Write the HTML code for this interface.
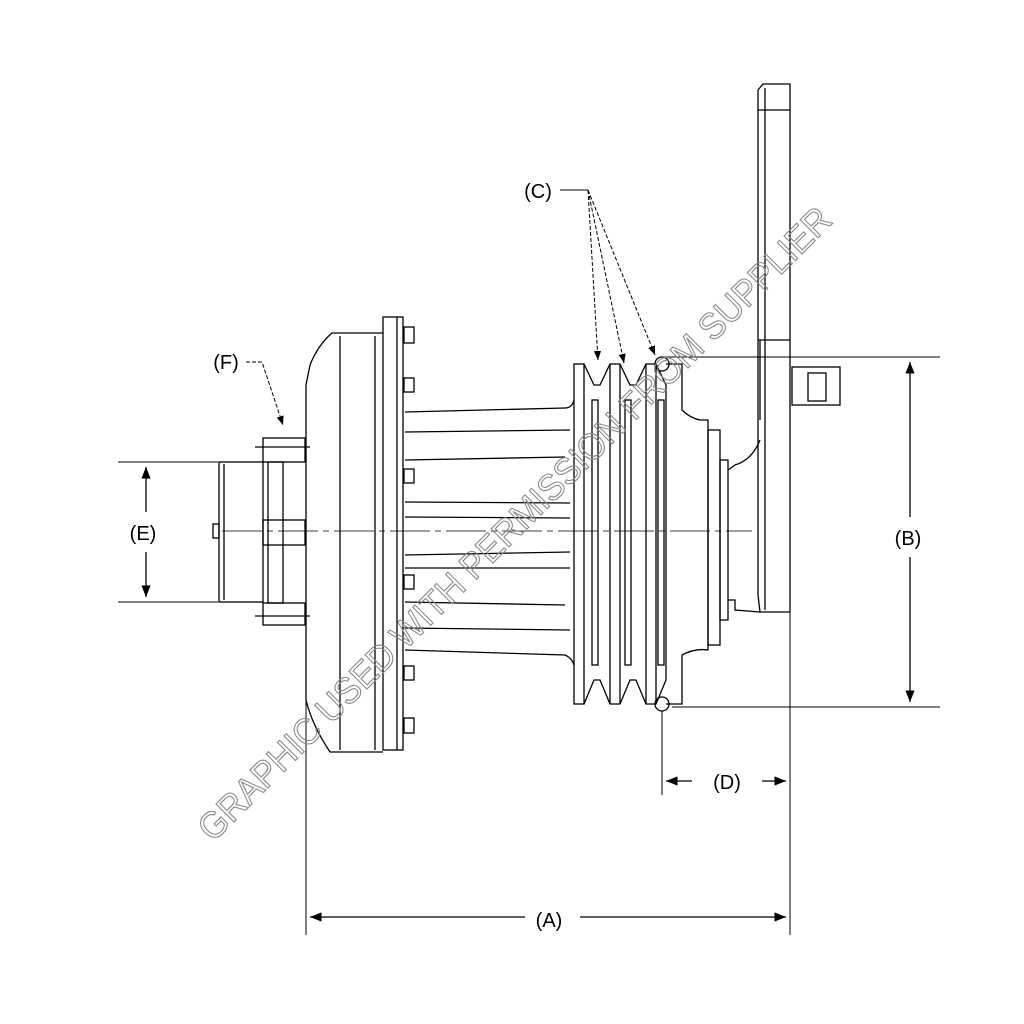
<!DOCTYPE html>
<html><head><style>html,body{margin:0;padding:0;background:#fff}svg{display:block}</style></head><body>
<svg width="1024" height="1024" viewBox="0 0 1024 1024" xmlns="http://www.w3.org/2000/svg" font-family="Liberation Sans, sans-serif">
<defs><marker id="ar" viewBox="0 0 10 10" refX="10" refY="5" markerWidth="9" markerHeight="9" orient="auto-start-reverse"><path d="M0,1 L10,5 L0,9 z" fill="#000"/></marker></defs>
<g fill="none" stroke="#000" stroke-width="1.3">
<!-- center line -->
<line x1="222" y1="531" x2="752" y2="531" stroke-dasharray="40,5,6,5" stroke-width="0.8"/>
<!-- hub -->
<rect x="219" y="462" width="44" height="140"/>
<line x1="224" y1="464" x2="224" y2="600"/>
<rect x="213" y="524" width="6" height="14"/>
<rect x="263" y="438" width="42" height="24"/><rect x="263" y="603" width="42" height="22"/>
<rect x="263" y="520" width="42" height="25"/>
<rect x="268" y="462" width="15" height="141"/>
<line x1="255" y1="447" x2="310" y2="447"/><line x1="255" y1="616" x2="310" y2="616"/>
<!-- clutch body -->
<path d="M383,333 L332,333 Q318,345 310,365 L306,385 L306,700 Q312,725 330,752 L383,752"/>
<line x1="340" y1="336" x2="340" y2="750"/>
<line x1="375" y1="336" x2="375" y2="750"/>
<rect x="383" y="317" width="20" height="433"/>
<line x1="397" y1="317" x2="397" y2="750"/>
<rect x="404" y="327" width="10" height="16"/><rect x="404" y="378" width="10" height="14"/><rect x="404" y="469" width="10" height="14"/>
<rect x="404" y="575" width="10" height="14"/><rect x="404" y="666" width="10" height="14"/><rect x="404" y="718" width="10" height="15"/>
<!-- fins -->
<path d="M405,412 L565,408 Q572,408 574,400"/><path d="M405,432 L570,430"/><path d="M405,460 L565,457"/>
<path d="M405,502 L570,503"/><path d="M405,517 L570,518"/><path d="M405,555 L570,552"/><path d="M405,568 L570,568"/>
<path d="M405,602 L565,605"/><path d="M405,628 L570,630"/><path d="M405,650 L565,655 Q572,658 574,665"/>
<!-- pulley -->
<rect x="574" y="364" width="10" height="340"/>
<path d="M584,364 L594,385 L600,385 L610,364 L620,364 L630,385 L636,385 L646,364 L656,364 L666,385 L666,680 L656,704 L646,704 L636,680 L630,680 L620,704 L610,704 L600,680 L594,680 L584,704"/>
<rect x="592" y="330" width="0" height="0"/>
<rect x="592" y="332" width="0" height="0"/>
<rect x="592" y="330" width="0" height="0"/>
<rect x="592" y="332" width="0" height="0"/>
<rect x="592" y="400" width="6" height="265"/><rect x="625" y="330" width="0" height="0"/>
<rect x="625" y="332" width="0" height="0"/>
<rect x="625" y="330" width="0" height="0"/>
<rect x="625" y="400" width="6" height="265"/>
<rect x="658" y="400" width="6" height="265"/>
<line x1="610" y1="364" x2="610" y2="704"/><line x1="620" y1="364" x2="620" y2="704"/>
<line x1="646" y1="364" x2="646" y2="704"/><line x1="656" y1="364" x2="656" y2="704"/>
<path d="M666,364 L682,364 L682,410 Q690,418 700,420 L708,420 L708,650 Q695,648 682,655 L682,704 L666,704"/>
<rect x="708" y="430" width="12" height="215"/>
<rect x="720" y="460" width="8" height="160"/>
<path d="M728,470 L735,465 Q752,460 760,440"/><path d="M728,600 L735,600 L735,610 L760,612"/>
<!-- bracket -->
<path d="M763,84 L790,84 L790,612 L760,612 L758,595 L758,90 Z"/>
<line x1="765" y1="88" x2="765" y2="610"/><line x1="758" y1="110" x2="790" y2="110"/>
<line x1="758" y1="340" x2="790" y2="340"/>
<rect x="792" y="367" width="48" height="38"/><rect x="808" y="373" width="18" height="28"/>
<line x1="760" y1="340" x2="760" y2="420"/>
<!-- dimensions -->
<line x1="660" y1="357" x2="940" y2="357" stroke-width="1"/><line x1="672" y1="707" x2="940" y2="707" stroke-width="1"/>
<circle cx="662" cy="364" r="7"/><circle cx="662" cy="704" r="7"/>
<line x1="910" y1="362" x2="910" y2="517" marker-start="url(#ar)"/><line x1="910" y1="557" x2="910" y2="702" marker-end="url(#ar)"/>
<line x1="118" y1="462" x2="218" y2="462" stroke-width="1"/><line x1="118" y1="602" x2="218" y2="602" stroke-width="1"/>
<line x1="146" y1="467" x2="146" y2="512" marker-start="url(#ar)"/><line x1="146" y1="552" x2="146" y2="597" marker-end="url(#ar)"/>
<line x1="306" y1="700" x2="306" y2="935" stroke-width="1"/><line x1="790" y1="612" x2="790" y2="935" stroke-width="1"/>
<line x1="310" y1="917" x2="525" y2="917" marker-start="url(#ar)"/><line x1="580" y1="917" x2="786" y2="917" marker-end="url(#ar)"/>
<line x1="662" y1="711" x2="662" y2="795" stroke-width="1"/>
<line x1="666" y1="781" x2="692" y2="781" marker-start="url(#ar)"/><line x1="762" y1="781" x2="786" y2="781" marker-end="url(#ar)"/>
<!-- C leader -->
<line x1="560" y1="190" x2="588" y2="190" stroke-width="1"/>
<line x1="588" y1="190" x2="598" y2="360" stroke-dasharray="4,2" marker-end="url(#ar)" stroke-width="1"/>
<line x1="588" y1="190" x2="624" y2="363" stroke-dasharray="4,2" marker-end="url(#ar)" stroke-width="1"/>
<line x1="588" y1="190" x2="655" y2="355" stroke-dasharray="4,2" marker-end="url(#ar)" stroke-width="1"/>
<!-- F leader -->
<polyline points="246,362 262,362 283,425" stroke-dasharray="4,2" stroke-width="1" marker-end="url(#ar)"/>
</g>
<g font-size="20" fill="#000" text-anchor="middle">
<text x="538" y="198">(C)</text><text x="226" y="369">(F)</text><text x="143" y="540">(E)</text>
<text x="908" y="545">(B)</text><text x="727" y="789">(D)</text><text x="549" y="927">(A)</text>
</g>
<text x="0" y="0" font-size="37" fill="none" stroke="#888" stroke-width="1.1" transform="translate(213,843) rotate(-45)" textLength="878" lengthAdjust="spacingAndGlyphs">GRAPHIC USED WITH PERMISSION FROM SUPPLIER</text>
</svg>
</body></html>
